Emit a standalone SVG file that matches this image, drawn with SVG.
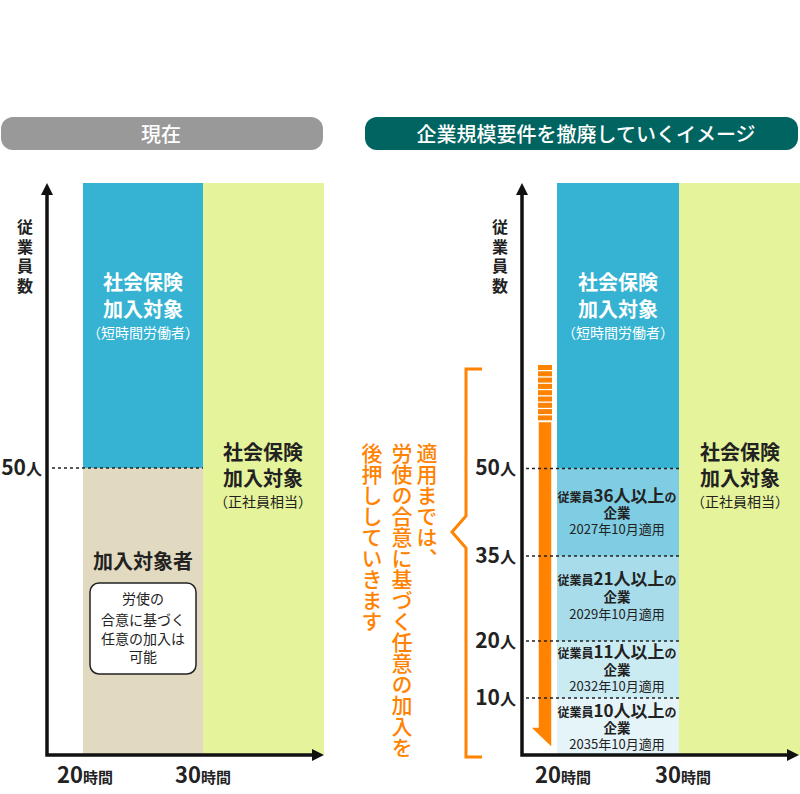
<svg xmlns="http://www.w3.org/2000/svg" width="800" height="794" viewBox="0 0 800 794">
<style>
text{font-family:"Noto Sans CJK JP","Noto Sans",sans-serif;fill:#222}
.b{font-weight:700}
.w{fill:#fff}
.hdr{font-size:20px;font-weight:500;fill:#fff;text-anchor:middle}
.big{font-size:20px;font-weight:700;text-anchor:middle}
.sub{font-size:14px;text-anchor:middle}
.ax{font-size:16px;font-weight:700;text-anchor:middle}
.dash{stroke:#222;stroke-width:1.5;stroke-dasharray:3 3;fill:none}
.axis{stroke:#111;stroke-width:3.5;fill:none}
.band1{font-size:12px;font-weight:700;text-anchor:middle}
.band2{font-size:13.5px;font-weight:700;text-anchor:middle}
.band3{font-size:13px;text-anchor:middle}
.org{fill:#ff8200}
.vt{font-size:21px;font-weight:500;fill:#ff8200;writing-mode:vertical-rl}
</style>

<!-- Left panel -->
<g id="left-header">
<rect x="1" y="117" width="322" height="33" rx="12" fill="#999"/>
<text class="hdr" x="161" y="142">現在</text>
</g>

<g id="left-short-time">
<rect x="83" y="183" width="120" height="285" fill="#36b3d2"/>
<text class="big w" x="143" y="290">社会保険</text>
<text class="big w" x="143" y="317">加入対象</text>
<text class="sub w" x="143" y="338">（短時間労働者）</text>
</g>

<g id="left-voluntary">
<rect x="83" y="468" width="120" height="287" fill="#e2dac0"/>
<text class="big" x="143" y="569">加入対象者</text>
<rect x="90" y="583" width="106" height="91" rx="9" fill="#fff" stroke="#222" stroke-width="1.5"/>
<text class="sub" x="143" y="604">労使の</text>
<text class="sub" x="143" y="625">合意に基づく</text>
<text class="sub" x="143" y="644">任意の加入は</text>
<text class="sub" x="143" y="662">可能</text>
</g>

<g id="left-regular">
<rect x="203" y="183" width="121" height="572" fill="#e5f39a"/>
<text class="big" x="263" y="460">社会保険</text>
<text class="big" x="263" y="486">加入対象</text>
<text class="sub" x="263" y="507">（正社員相当）</text>
</g>

<g id="left-axes">
<text class="ax" x="25" y="233">従</text>
<text class="ax" x="25" y="253">業</text>
<text class="ax" x="25" y="272">員</text>
<text class="ax" x="25" y="292">数</text>
<text class="b" x="42" y="475" text-anchor="end"><tspan font-size="21">50</tspan><tspan font-size="16">人</tspan></text>
<text class="b" x="57" y="783"><tspan font-size="22">20</tspan><tspan font-size="15">時間</tspan></text>
<text class="b" x="175" y="783"><tspan font-size="22">30</tspan><tspan font-size="15">時間</tspan></text>
</g>

<!-- Right panel -->
<g id="right-header">
<rect x="365" y="117" width="433" height="33" rx="12" fill="#006460"/>
<text class="hdr" x="586" y="142">企業規模要件を撤廃していくイメージ</text>
</g>

<g id="right-short-time">
<rect x="557" y="183" width="122" height="285" fill="#36b3d2"/>
<text class="big w" x="618" y="290">社会保険</text>
<text class="big w" x="618" y="317">加入対象</text>
<text class="sub w" x="618" y="338">（短時間労働者）</text>
</g>

<g id="band-36">
<rect x="557" y="468" width="122" height="88" fill="#7fcde2"/>
<text class="band1" x="617" y="502">従業員<tspan font-size="17">36人以上</tspan>の</text>
<text class="band2" x="617" y="518">企業</text>
<text class="band3" x="617" y="534">2027年10月適用</text>
</g>

<g id="band-21">
<rect x="557" y="556" width="122" height="85" fill="#a8dcea"/>
<text class="band1" x="617" y="585">従業員<tspan font-size="17">21人以上</tspan>の</text>
<text class="band2" x="617" y="602">企業</text>
<text class="band3" x="617" y="619">2029年10月適用</text>
</g>

<g id="band-11">
<rect x="557" y="641" width="122" height="57" fill="#cbebf3"/>
<text class="band1" x="617" y="658">従業員<tspan font-size="17">11人以上</tspan>の</text>
<text class="band2" x="617" y="675">企業</text>
<text class="band3" x="617" y="691">2032年10月適用</text>
</g>

<g id="band-10">
<rect x="557" y="698" width="122" height="57" fill="#e5f4f9"/>
<text class="band1" x="617" y="717">従業員<tspan font-size="17">10人以上</tspan>の</text>
<text class="band2" x="617" y="733">企業</text>
<text class="band3" x="617" y="749">2035年10月適用</text>
</g>

<g id="right-regular">
<rect x="679" y="183" width="121" height="572" fill="#e5f39a"/>
<text class="big" x="740" y="460">社会保険</text>
<text class="big" x="740" y="486">加入対象</text>
<text class="sub" x="740" y="507">（正社員相当）</text>
</g>

<g id="right-axes">
<text class="ax" x="500" y="233">従</text>
<text class="ax" x="500" y="253">業</text>
<text class="ax" x="500" y="272">員</text>
<text class="ax" x="500" y="292">数</text>
<text class="b" x="516" y="475" text-anchor="end"><tspan font-size="21">50</tspan><tspan font-size="16">人</tspan></text>
<text class="b" x="516" y="563" text-anchor="end"><tspan font-size="21">35</tspan><tspan font-size="16">人</tspan></text>
<text class="b" x="516" y="648" text-anchor="end"><tspan font-size="21">20</tspan><tspan font-size="16">人</tspan></text>
<text class="b" x="516" y="705" text-anchor="end"><tspan font-size="21">10</tspan><tspan font-size="16">人</tspan></text>
<text class="b" x="535" y="783"><tspan font-size="22">20</tspan><tspan font-size="15">時間</tspan></text>
<text class="b" x="655" y="783"><tspan font-size="22">30</tspan><tspan font-size="15">時間</tspan></text>
</g>

<g id="orange-arrow">
<g class="org">
<rect x="538" y="365" width="14" height="5"/>
<rect x="538" y="371.3" width="14" height="5"/>
<rect x="538" y="377.6" width="14" height="5"/>
<rect x="538" y="383.9" width="14" height="5"/>
<rect x="538" y="390.2" width="14" height="5"/>
<rect x="538" y="396.5" width="14" height="5"/>
<rect x="538" y="402.8" width="14" height="5"/>
<rect x="538" y="409.1" width="14" height="5"/>
<rect x="538" y="415.4" width="14" height="5"/>
</g>
<polygon points="538,421.5 552,421.5 552,748 530,727 538,727" fill="#ff8200" stroke="#fff" stroke-width="1.5" stroke-linejoin="miter"/>
</g>

<g id="bracket">
<polyline points="482,369 466,369 466,516 452,532 466,548 466,757 482,757" fill="none" stroke="#ff8200" stroke-width="3"/>
<text class="vt" x="427" y="443">適用までは、</text>
<text class="vt" x="402" y="443">労使の合意に基づく任意の加入を</text>
<text class="vt" x="372" y="443">後押ししていきます</text>
</g>

<g id="connectors">
<line class="dash" x1="52" y1="468" x2="203" y2="468"/>
<line class="dash" x1="526" y1="468.5" x2="679" y2="468.5"/>
<line class="dash" x1="526" y1="556" x2="679" y2="556"/>
<line class="dash" x1="526" y1="641" x2="679" y2="641"/>
<line class="dash" x1="526" y1="698" x2="679" y2="698"/>
<polyline class="axis" points="47,192 47,755 313,755"/>
<polygon points="47,183 41,195 53,195" fill="#111"/>
<polygon points="324,755 312,749 312,761" fill="#111"/>
<polyline class="axis" points="522,192 522,755 788,755"/>
<polygon points="522,183 516,195 528,195" fill="#111"/>
<polygon points="799,755 787,749 787,761" fill="#111"/>
</g>
</svg>
